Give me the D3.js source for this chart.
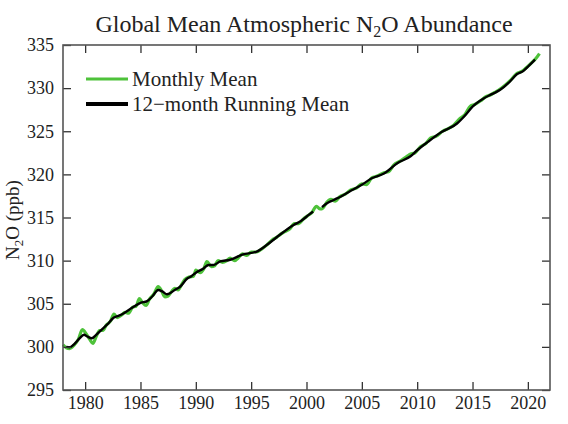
<!DOCTYPE html>
<html>
<head>
<meta charset="utf-8">
<script src="https://cdnjs.cloudflare.com/ajax/libs/d3/7.8.5/d3.min.js"></script>
</head>
<body style="margin:0">
<svg id="chart" width="568" height="424"></svg>
<script>
// monthly mean (peaks and troughs)
var monthYears = [1978.0, 1978.3, 1978.6, 1979.0, 1979.4, 1979.75, 1980.1, 1980.4, 1980.7, 1981.0,
  1981.3, 1981.6, 1981.9, 1982.3, 1982.6, 1982.9, 1983.3, 1983.6, 1983.9, 1984.3,
  1984.6, 1984.9, 1985.2, 1985.5, 1985.8, 1986.2, 1986.6, 1986.9, 1987.2, 1987.5,
  1987.8, 1988.1, 1988.4, 1988.7, 1989.0, 1989.4, 1989.8, 1990.0, 1990.4, 1990.7,
  1991.0, 1991.4, 1991.7, 1992.0, 1992.4, 1992.8, 1993.1, 1993.5, 1993.9, 1994.2,
  1994.6, 1995.0, 1995.5, 1995.9, 1996.4, 1996.9, 1997.3, 1997.7, 1998.1, 1998.5,
  1998.9, 1999.3, 1999.7, 2000.1, 2000.5, 2000.9, 2001.2, 2001.4, 2001.8, 2002.2,
  2002.6, 2003.0, 2003.5, 2004.0, 2004.5, 2005.0, 2005.4, 2005.9, 2006.4, 2007.0,
  2007.4, 2007.9, 2008.4, 2009.0, 2009.3, 2009.8, 2010.3, 2010.8, 2011.2, 2011.7,
  2012.3, 2012.8, 2013.3, 2013.8, 2014.3, 2014.8, 2015.2, 2015.7, 2016.2, 2016.6,
  2017.0, 2017.5, 2018.0, 2018.5, 2019.0, 2019.4, 2019.8, 2020.3, 2020.7, 2021.05];
var monthValues = [300.25, 299.9, 299.8, 300.2, 300.9, 302.0, 301.5, 300.9, 300.4, 301.2,
  301.9, 301.9, 302.5, 303.0, 303.8, 303.4, 303.7, 304.0, 303.9, 304.6,
  304.7, 305.6, 305.1, 304.8, 305.5, 306.1, 307.0, 306.5, 305.8, 305.9,
  306.4, 306.8, 306.6, 307.2, 307.8, 308.1, 308.2, 308.9, 308.6, 309.0,
  309.9, 309.3, 309.4, 310.0, 309.8, 310.0, 310.3, 310.0, 310.4, 310.8,
  310.6, 311.0, 311.0, 311.3, 311.8, 312.4, 312.7, 313.1, 313.4, 313.7,
  314.3, 314.3, 314.8, 315.2, 315.6, 316.3, 316.0, 316.0, 316.7, 317.1,
  316.9, 317.4, 317.7, 318.2, 318.4, 318.9, 318.8, 319.6, 319.8, 320.2,
  320.3, 321.1, 321.5, 322.0, 322.3, 322.5, 323.2, 323.6, 324.2, 324.4,
  325.0, 325.3, 325.7, 326.4, 326.9, 327.9, 328.1, 328.5, 329.0, 329.2,
  329.5, 329.9, 330.4, 331.0, 331.7, 331.9, 332.3, 332.9, 333.4, 334.0];

// 12-month running mean (null = gap around 2001)
var runYears = [1978.3, 1978.6, 1979.0, 1979.5, 1979.9, 1980.2, 1980.6, 1981.0, 1981.5, 1982.0,
  1982.6, 1983.0, 1983.5, 1984.2, 1985.0, 1985.6, 1986.1, 1986.6, 1987.0, 1987.4,
  1988.1, 1988.6, 1989.2, 1989.6, 1990.0, 1990.7, 1991.15, 1991.6, 1992.2, 1993.1,
  1994.2, 1995.5, 1996.4, 1997.6, 1998.8, 1999.5, 2000.2, 2000.6, 2001.0, 2001.4,
  2001.85, 2002.4, 2003.2, 2004.0, 2005.0, 2005.9, 2007.0, 2008.2, 2009.4, 2010.0,
  2011.0, 2012.2, 2013.6, 2014.3, 2015.0, 2016.0, 2016.75, 2017.5, 2018.25, 2019.0,
  2019.6, 2020.1, 2020.65];
var runValues = [300.0, 299.95, 300.3, 301.0, 301.4, 301.2, 301.0, 301.4, 302.0, 302.6,
  303.4, 303.6, 303.9, 304.5, 305.1, 305.3, 305.9, 306.6, 306.4, 306.1,
  306.6, 307.0, 307.9, 308.2, 308.6, 309.1, 309.5, 309.5, 309.9, 310.1,
  310.7, 311.05, 311.8, 313.0, 314.1, 314.6, 315.3, 315.7, null, 316.2,
  316.65, 317.0, 317.5, 318.1, 318.8, 319.55, 320.1, 321.3, 322.1, 322.8,
  323.8, 324.9, 325.9, 326.8, 327.85, 328.8, 329.3, 329.8, 330.6, 331.6,
  332.0, 332.6, 333.3];

var xTicks = [1980, 1985, 1990, 1995, 2000, 2005, 2010, 2015, 2020];
var yTicks = [295, 300, 305, 310, 315, 320, 325, 330, 335];
var legendLabels = ["Monthly Mean", "12\u2212month Running Mean"];

var W = 568, H = 424;
var margin = { top: 45, right: 18, bottom: 34, left: 63 };
var width = W - margin.left - margin.right;
var height = H - margin.top - margin.bottom;
var green = "#4ec23a";

var svg = d3.select("#chart");

var g = svg.append("g")
    .attr("transform", `translate(${margin.left},${margin.top})`);

var x = d3.scaleLinear().domain([1978, 2022]).range([0, width]);
var y = d3.scaleLinear().domain([295, 335]).range([height, 0]);

var monthly = monthYears.map(function(d, i) { return { t: d, v: monthValues[i] }; });
var running = runYears.map(function(d, i) { return { t: d, v: runValues[i] }; });

var line = d3.line()
    .defined(function(d) { return d.v != null; })
    .curve(d3.curveMonotoneX)
    .x(function(d) { return x(d.t); })
    .y(function(d) { return y(d.v); });

g.append("path")
    .datum(monthly)
    .attr("fill", "none")
    .attr("stroke", green)
    .attr("stroke-width", 3.2)
    .attr("d", line);

g.append("path")
    .datum(running)
    .attr("fill", "none")
    .attr("stroke", "#000")
    .attr("stroke-width", 2.4)
    .attr("d", line);

// axes, ticks pointing inward on all four sides
var tickLen = 8;
function styleAxis(sel) {
    sel.attr("font-family", null).attr("font-size", null);
    sel.select(".domain").remove();
    sel.selectAll(".tick line").attr("stroke", "#333").attr("stroke-width", 1.3);
    sel.selectAll(".tick text")
        .style("font-family", "Liberation Serif")
        .style("font-size", "18px")
        .attr("fill", "#222");
}

g.append("g")
    .attr("transform", `translate(0,${height})`)
    .call(d3.axisBottom(x).tickValues(xTicks).tickFormat(d3.format("d"))
        .tickSizeInner(-tickLen).tickSizeOuter(0).tickPadding(6))
    .call(styleAxis);

g.append("g")
    .call(d3.axisTop(x).tickValues(xTicks).tickFormat("")
        .tickSizeInner(-tickLen).tickSizeOuter(0))
    .call(styleAxis);

g.append("g")
    .call(d3.axisLeft(y).tickValues(yTicks).tickFormat(d3.format("d"))
        .tickSizeInner(-tickLen).tickSizeOuter(0).tickPadding(9))
    .call(styleAxis);

g.append("g")
    .attr("transform", `translate(${width},0)`)
    .call(d3.axisRight(y).tickValues(yTicks).tickFormat("")
        .tickSizeInner(-tickLen).tickSizeOuter(0))
    .call(styleAxis);

g.append("rect")
    .attr("width", width)
    .attr("height", height)
    .attr("fill", "none")
    .attr("stroke", "#555")
    .attr("stroke-width", 1.6);

// title
var title = svg.append("text")
    .attr("x", 304)
    .attr("y", 32)
    .attr("text-anchor", "middle")
    .attr("fill", "#222")
    .style("font-family", "Liberation Serif")
    .style("font-size", "24px");
title.append("tspan").text("Global Mean Atmospheric N");
title.append("tspan").attr("dy", 5).style("font-size", "16px").text("2");
title.append("tspan").attr("dy", -5).text("O Abundance");

// y label
var ylab = svg.append("text")
    .attr("transform", "translate(19,220) rotate(-90)")
    .attr("text-anchor", "middle")
    .attr("fill", "#222")
    .style("font-family", "Liberation Serif")
    .style("font-size", "19px");
ylab.append("tspan").text("N");
ylab.append("tspan").attr("dy", 4).style("font-size", "13px").text("2");
ylab.append("tspan").attr("dy", -4).text("O (ppb)");

// legend
var legend = svg.append("g");
var legendColors = [green, "#000"];
var legendWidths = [2.8, 4];
legendLabels.forEach(function(lab, i) {
    var ly = 79 + i * 25;
    legend.append("line")
        .attr("x1", 86).attr("x2", 128)
        .attr("y1", ly).attr("y2", ly)
        .attr("stroke", legendColors[i])
        .attr("stroke-width", legendWidths[i]);
    legend.append("text")
        .attr("x", 132)
        .attr("y", ly + 6.5)
        .attr("fill", "#222")
        .style("font-family", "Liberation Serif")
        .style("font-size", "21px")
        .text(lab);
});
</script>
</body>
</html>
